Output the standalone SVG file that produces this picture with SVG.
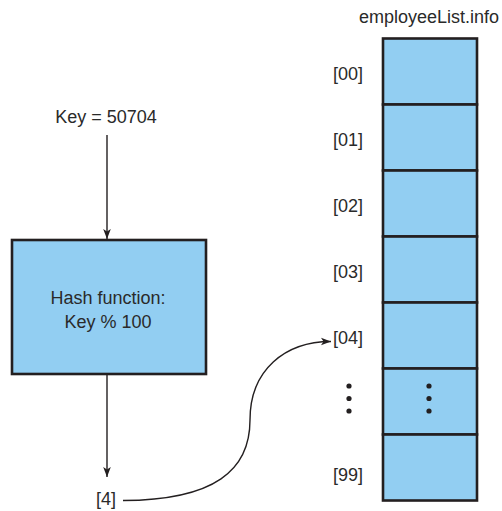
<svg xmlns="http://www.w3.org/2000/svg" width="502" height="511" viewBox="0 0 502 511">
<defs>
<style>
text{font-family:"Liberation Sans",Arial,sans-serif;font-size:18px;fill:#2a2a2a}
.cell{fill:#92cef2;stroke:#231f20;stroke-width:2.6}
.conn{fill:none;stroke:#231f20;stroke-width:1.4}
.dot{fill:#231f20}
</style>
<marker id="arr" viewBox="0 0 10 10" refX="10" refY="5" markerWidth="10" markerHeight="10" markerUnits="userSpaceOnUse" orient="auto">
<path d="M0,1.2 L10,5 L0,8.8 L2.5,5 Z" fill="#231f20"/>
</marker>
</defs>
<rect width="502" height="511" fill="#ffffff"/>
<g id="key">
<text x="106" y="123" text-anchor="middle">Key = 50704</text>
</g>
<g id="hash">
<rect class="cell" x="12" y="240" width="194" height="134"/>
<text x="108" y="304" text-anchor="middle">Hash function:</text>
<text x="108" y="328" text-anchor="middle">Key % 100</text>
</g>
<g id="result">
<text x="106" y="505" text-anchor="middle">[4]</text>
</g>
<g id="array">
<text x="429" y="23" text-anchor="middle">employeeList.info</text>
<rect class="cell" x="383" y="38.5" width="94" height="66"/>
<rect class="cell" x="383" y="104.5" width="94" height="66"/>
<rect class="cell" x="383" y="170.5" width="94" height="66"/>
<rect class="cell" x="383" y="236.5" width="94" height="66"/>
<rect class="cell" x="383" y="302.5" width="94" height="66"/>
<rect class="cell" x="383" y="368.5" width="94" height="66"/>
<rect class="cell" x="383" y="434.5" width="94" height="66"/>
<text x="348" y="80" text-anchor="middle">[00]</text>
<text x="348" y="146" text-anchor="middle">[01]</text>
<text x="348" y="212" text-anchor="middle">[02]</text>
<text x="348" y="278" text-anchor="middle">[03]</text>
<text x="348" y="344" text-anchor="middle">[04]</text>
<text x="348" y="481" text-anchor="middle">[99]</text>
<circle class="dot" cx="349" cy="386" r="2.6"/>
<circle class="dot" cx="349" cy="398.5" r="2.6"/>
<circle class="dot" cx="349" cy="411" r="2.6"/>
<circle class="dot" cx="429" cy="386" r="2.6"/>
<circle class="dot" cx="429" cy="398.5" r="2.6"/>
<circle class="dot" cx="429" cy="411" r="2.6"/>
</g>
<g id="connectors">
<path class="conn" d="M107,135 L107,239" marker-end="url(#arr)"/>
<path class="conn" d="M107,375 L107,477" marker-end="url(#arr)"/>
<path class="conn" d="M123,500.5 C215,500 250,470 250,420 C250,370 285,341.5 331,341.5" marker-end="url(#arr)"/>
</g>
</svg>
